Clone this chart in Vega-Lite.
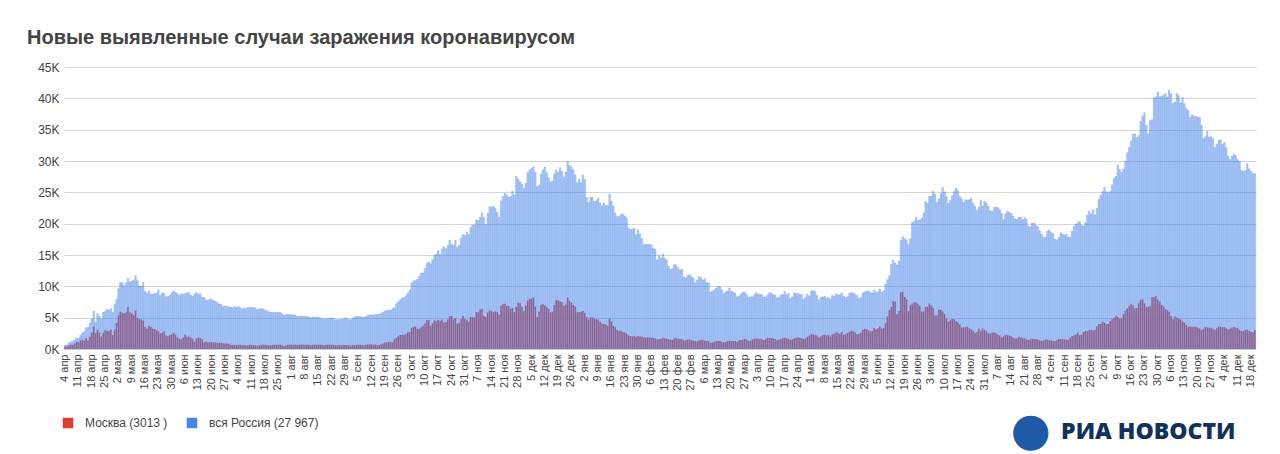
{
  "$schema": "https://vega.github.io/schema/vega-lite/v6.json",
  "autosize": "none",
  "width": 1192,
  "height": 282,
  "padding": {"left": 64, "top": 67, "right": 24, "bottom": 105},
  "background": "white",
  "title": {
    "text": "Новые выявленные случаи заражения коронавирусом",
    "anchor": "start",
    "frame": "group",
    "dx": -37,
    "offset": 13,
    "font": "Liberation Sans",
    "fontSize": 20,
    "fontWeight": "bold",
    "color": "#444444"
  },
  "config": {"view": {"stroke": null}, "font": "Liberation Sans"},
  "data": {
    "values": [
      {"d":"2020-04-04","r":582,"m":434},{"d":"2020-04-05","r":658,"m":387},{"d":"2020-04-06","r":954,"m":591},{"d":"2020-04-07","r":1154,"m":697},{"d":"2020-04-08","r":1175,"m":660},{"d":"2020-04-09","r":1459,"m":899},{"d":"2020-04-10","r":1786,"m":1124},
      {"d":"2020-04-11","r":1667,"m":1030},{"d":"2020-04-12","r":2186,"m":1355},{"d":"2020-04-13","r":2558,"m":1489},{"d":"2020-04-14","r":2774,"m":1306},{"d":"2020-04-15","r":3388,"m":1774},{"d":"2020-04-16","r":3448,"m":1370},{"d":"2020-04-17","r":4070,"m":1959},
      {"d":"2020-04-18","r":4785,"m":2649},{"d":"2020-04-19","r":6060,"m":3570},{"d":"2020-04-20","r":4268,"m":2548},{"d":"2020-04-21","r":5642,"m":3083},{"d":"2020-04-22","r":5236,"m":2612},{"d":"2020-04-23","r":4774,"m":1958},{"d":"2020-04-24","r":5849,"m":2586},
      {"d":"2020-04-25","r":5966,"m":2971},{"d":"2020-04-26","r":6361,"m":2930},{"d":"2020-04-27","r":6198,"m":2871},{"d":"2020-04-28","r":6411,"m":3075},{"d":"2020-04-29","r":5841,"m":2220},{"d":"2020-04-30","r":7099,"m":3093},
      {"d":"2020-05-01","r":7933,"m":4138},{"d":"2020-05-02","r":9623,"m":5358},{"d":"2020-05-03","r":10633,"m":5948},{"d":"2020-05-04","r":10581,"m":5795},{"d":"2020-05-05","r":10102,"m":5714},{"d":"2020-05-06","r":10559,"m":5858},{"d":"2020-05-07","r":11231,"m":6703},{"d":"2020-05-08","r":10699,"m":5846},
      {"d":"2020-05-09","r":10817,"m":5667},{"d":"2020-05-10","r":11012,"m":5392},{"d":"2020-05-11","r":11656,"m":6169},{"d":"2020-05-12","r":10899,"m":4955},{"d":"2020-05-13","r":10028,"m":4748},{"d":"2020-05-14","r":9974,"m":4712},{"d":"2020-05-15","r":10598,"m":4555},
      {"d":"2020-05-16","r":9200,"m":3505},{"d":"2020-05-17","r":8926,"m":3238},{"d":"2020-05-18","r":9263,"m":3709},{"d":"2020-05-19","r":8764,"m":3545},{"d":"2020-05-20","r":8764,"m":3255},{"d":"2020-05-21","r":8849,"m":3190},{"d":"2020-05-22","r":8894,"m":2988},
      {"d":"2020-05-23","r":9434,"m":2795},{"d":"2020-05-24","r":8599,"m":2516},{"d":"2020-05-25","r":8946,"m":2581},{"d":"2020-05-26","r":8915,"m":2830},{"d":"2020-05-27","r":8338,"m":2140},{"d":"2020-05-28","r":8371,"m":2054},{"d":"2020-05-29","r":8572,"m":2220},
      {"d":"2020-05-30","r":8952,"m":2332},{"d":"2020-05-31","r":9268,"m":2595},
      {"d":"2020-06-01","r":9035,"m":2286},{"d":"2020-06-02","r":8863,"m":1842},{"d":"2020-06-03","r":8536,"m":1595},{"d":"2020-06-04","r":8831,"m":1572},{"d":"2020-06-05","r":8726,"m":1855},
      {"d":"2020-06-06","r":8855,"m":2297},{"d":"2020-06-07","r":8984,"m":1972},{"d":"2020-06-08","r":8985,"m":2001},{"d":"2020-06-09","r":8595,"m":1854},{"d":"2020-06-10","r":8404,"m":1572},{"d":"2020-06-11","r":8779,"m":1195},{"d":"2020-06-12","r":8987,"m":1663},
      {"d":"2020-06-13","r":8706,"m":1842},{"d":"2020-06-14","r":8835,"m":1742},{"d":"2020-06-15","r":8248,"m":1572},{"d":"2020-06-16","r":8246,"m":1066},{"d":"2020-06-17","r":7843,"m":1195},{"d":"2020-06-18","r":7790,"m":1033},{"d":"2020-06-19","r":7972,"m":1104},
      {"d":"2020-06-20","r":7889,"m":1063},{"d":"2020-06-21","r":7728,"m":1053},{"d":"2020-06-22","r":7600,"m":1039},{"d":"2020-06-23","r":7425,"m":982},{"d":"2020-06-24","r":7176,"m":949},{"d":"2020-06-25","r":7113,"m":1012},{"d":"2020-06-26","r":6800,"m":915},
      {"d":"2020-06-27","r":6852,"m":858},{"d":"2020-06-28","r":6791,"m":896},{"d":"2020-06-29","r":6719,"m":797},{"d":"2020-06-30","r":6693,"m":645},
      {"d":"2020-07-01","r":6556,"m":649},{"d":"2020-07-02","r":6760,"m":665},{"d":"2020-07-03","r":6632,"m":603},
      {"d":"2020-07-04","r":6736,"m":659},{"d":"2020-07-05","r":6611,"m":674},{"d":"2020-07-06","r":6368,"m":558},{"d":"2020-07-07","r":6562,"m":647},{"d":"2020-07-08","r":6509,"m":608},{"d":"2020-07-09","r":6635,"m":577},{"d":"2020-07-10","r":6636,"m":659},
      {"d":"2020-07-11","r":6611,"m":642},{"d":"2020-07-12","r":6615,"m":621},{"d":"2020-07-13","r":6537,"m":580},{"d":"2020-07-14","r":6248,"m":531},{"d":"2020-07-15","r":6422,"m":588},{"d":"2020-07-16","r":6428,"m":691},{"d":"2020-07-17","r":6406,"m":704},
      {"d":"2020-07-18","r":6214,"m":668},{"d":"2020-07-19","r":6109,"m":640},{"d":"2020-07-20","r":5940,"m":573},{"d":"2020-07-21","r":5842,"m":577},{"d":"2020-07-22","r":5862,"m":636},{"d":"2020-07-23","r":5811,"m":667},{"d":"2020-07-24","r":5871,"m":688},
      {"d":"2020-07-25","r":5871,"m":671},{"d":"2020-07-26","r":5811,"m":696},{"d":"2020-07-27","r":5635,"m":603},{"d":"2020-07-28","r":5395,"m":480},{"d":"2020-07-29","r":5475,"m":604},{"d":"2020-07-30","r":5509,"m":692},{"d":"2020-07-31","r":5482,"m":693},
      {"d":"2020-08-01","r":5462,"m":695},{"d":"2020-08-02","r":5427,"m":692},{"d":"2020-08-03","r":5394,"m":683},{"d":"2020-08-04","r":5159,"m":613},{"d":"2020-08-05","r":5204,"m":671},{"d":"2020-08-06","r":5267,"m":695},{"d":"2020-08-07","r":5241,"m":702},
      {"d":"2020-08-08","r":5212,"m":695},{"d":"2020-08-09","r":5189,"m":689},{"d":"2020-08-10","r":5118,"m":681},{"d":"2020-08-11","r":4945,"m":590},{"d":"2020-08-12","r":5102,"m":664},{"d":"2020-08-13","r":5065,"m":690},{"d":"2020-08-14","r":5061,"m":680},
      {"d":"2020-08-15","r":5057,"m":683},{"d":"2020-08-16","r":4969,"m":683},{"d":"2020-08-17","r":4892,"m":675},{"d":"2020-08-18","r":4748,"m":611},{"d":"2020-08-19","r":4828,"m":659},{"d":"2020-08-20","r":4870,"m":679},{"d":"2020-08-21","r":4921,"m":685},
      {"d":"2020-08-22","r":4941,"m":680},{"d":"2020-08-23","r":4852,"m":669},{"d":"2020-08-24","r":4696,"m":599},{"d":"2020-08-25","r":4676,"m":583},{"d":"2020-08-26","r":4711,"m":615},{"d":"2020-08-27","r":4729,"m":616},{"d":"2020-08-28","r":4829,"m":627},
      {"d":"2020-08-29","r":4980,"m":638},{"d":"2020-08-30","r":4897,"m":645},{"d":"2020-08-31","r":4729,"m":599},
      {"d":"2020-09-01","r":4676,"m":557},{"d":"2020-09-02","r":4952,"m":622},{"d":"2020-09-03","r":5110,"m":628},{"d":"2020-09-04","r":5205,"m":643},
      {"d":"2020-09-05","r":5185,"m":682},{"d":"2020-09-06","r":5195,"m":691},{"d":"2020-09-07","r":5099,"m":640},{"d":"2020-09-08","r":5063,"m":598},{"d":"2020-09-09","r":5172,"m":695},{"d":"2020-09-10","r":5363,"m":720},{"d":"2020-09-11","r":5449,"m":757},
      {"d":"2020-09-12","r":5406,"m":767},{"d":"2020-09-13","r":5394,"m":650},{"d":"2020-09-14","r":5509,"m":712},{"d":"2020-09-15","r":5488,"m":643},{"d":"2020-09-16","r":5529,"m":632},{"d":"2020-09-17","r":5670,"m":750},{"d":"2020-09-18","r":5905,"m":883},
      {"d":"2020-09-19","r":6065,"m":1050},{"d":"2020-09-20","r":6148,"m":1056},{"d":"2020-09-21","r":6196,"m":1154},{"d":"2020-09-22","r":6215,"m":1083},{"d":"2020-09-23","r":6431,"m":1103},{"d":"2020-09-24","r":6595,"m":1560},{"d":"2020-09-25","r":7212,"m":1792},
      {"d":"2020-09-26","r":7523,"m":2016},{"d":"2020-09-27","r":7867,"m":2217},{"d":"2020-09-28","r":8135,"m":2285},{"d":"2020-09-29","r":8232,"m":2308},{"d":"2020-09-30","r":8481,"m":2424},
      {"d":"2020-10-01","r":8945,"m":2678},{"d":"2020-10-02","r":9412,"m":2704},
      {"d":"2020-10-03","r":10499,"m":3327},{"d":"2020-10-04","r":10888,"m":3537},{"d":"2020-10-05","r":10888,"m":3576},{"d":"2020-10-06","r":11115,"m":3229},{"d":"2020-10-07","r":11615,"m":3229},{"d":"2020-10-08","r":12126,"m":3478},{"d":"2020-10-09","r":12126,"m":3725},
      {"d":"2020-10-10","r":12846,"m":4082},{"d":"2020-10-11","r":13634,"m":4609},{"d":"2020-10-12","r":13868,"m":4634},{"d":"2020-10-13","r":13592,"m":3701},{"d":"2020-10-14","r":14231,"m":4130},{"d":"2020-10-15","r":14926,"m":4576},{"d":"2020-10-16","r":15150,"m":4425},
      {"d":"2020-10-17","r":15700,"m":4610},{"d":"2020-10-18","r":15099,"m":4501},{"d":"2020-10-19","r":15982,"m":4710},{"d":"2020-10-20","r":16319,"m":4228},{"d":"2020-10-21","r":15982,"m":4320},{"d":"2020-10-22","r":16521,"m":4701},{"d":"2020-10-23","r":17340,"m":5224},
      {"d":"2020-10-24","r":16710,"m":5283},{"d":"2020-10-25","r":16550,"m":4719},{"d":"2020-10-26","r":17347,"m":4930},{"d":"2020-10-27","r":16202,"m":4055},{"d":"2020-10-28","r":16550,"m":4172},{"d":"2020-10-29","r":17717,"m":4767},{"d":"2020-10-30","r":18283,"m":5261},
      {"d":"2020-10-31","r":18140,"m":4878},
      {"d":"2020-11-01","r":18665,"m":4616},{"d":"2020-11-02","r":18257,"m":4366},{"d":"2020-11-03","r":19404,"m":5126},{"d":"2020-11-04","r":19768,"m":5048},{"d":"2020-11-05","r":19768,"m":5074},{"d":"2020-11-06","r":20582,"m":5891},
      {"d":"2020-11-07","r":20498,"m":5882},{"d":"2020-11-08","r":20977,"m":6253},{"d":"2020-11-09","r":21798,"m":6438},{"d":"2020-11-10","r":20977,"m":5275},{"d":"2020-11-11","r":19851,"m":5122},{"d":"2020-11-12","r":21608,"m":5829},{"d":"2020-11-13","r":22702,"m":6164},
      {"d":"2020-11-14","r":22572,"m":6044},{"d":"2020-11-15","r":22778,"m":5880},{"d":"2020-11-16","r":22410,"m":6017},{"d":"2020-11-17","r":21798,"m":5882},{"d":"2020-11-18","r":20977,"m":5478},{"d":"2020-11-19","r":23610,"m":6899},{"d":"2020-11-20","r":24318,"m":7168},
      {"d":"2020-11-21","r":24822,"m":7212},{"d":"2020-11-22","r":24581,"m":6902},{"d":"2020-11-23","r":24236,"m":6866},{"d":"2020-11-24","r":24326,"m":6438},{"d":"2020-11-25","r":25173,"m":6531},{"d":"2020-11-26","r":24581,"m":5902},{"d":"2020-11-27","r":27543,"m":6747},
      {"d":"2020-11-28","r":27100,"m":7363},{"d":"2020-11-29","r":26683,"m":7297},{"d":"2020-11-30","r":26338,"m":6750},
      {"d":"2020-12-01","r":25694,"m":6037},{"d":"2020-12-02","r":26402,"m":6927},{"d":"2020-12-03","r":28145,"m":7750},{"d":"2020-12-04","r":28585,"m":7993},
      {"d":"2020-12-05","r":28782,"m":8050},{"d":"2020-12-06","r":29039,"m":8225},{"d":"2020-12-07","r":28142,"m":6754},{"d":"2020-12-08","r":25928,"m":5113},{"d":"2020-12-09","r":26190,"m":5962},{"d":"2020-12-10","r":27927,"m":7069},{"d":"2020-12-11","r":28585,"m":7170},
      {"d":"2020-12-12","r":29039,"m":6974},{"d":"2020-12-13","r":28137,"m":6719},{"d":"2020-12-14","r":27328,"m":6405},{"d":"2020-12-15","r":26689,"m":5843},{"d":"2020-12-16","r":26801,"m":5951},{"d":"2020-12-17","r":27921,"m":7011},{"d":"2020-12-18","r":28552,"m":7797},
      {"d":"2020-12-19","r":28209,"m":7797},{"d":"2020-12-20","r":28948,"m":7624},{"d":"2020-12-21","r":28341,"m":7518},{"d":"2020-12-22","r":27424,"m":6914},{"d":"2020-12-23","r":28214,"m":7095},{"d":"2020-12-24","r":29935,"m":8203},{"d":"2020-12-25","r":29258,"m":7651},
      {"d":"2020-12-26","r":29018,"m":7374},{"d":"2020-12-27","r":28552,"m":7022},{"d":"2020-12-28","r":27787,"m":6767},{"d":"2020-12-29","r":26513,"m":5873},{"d":"2020-12-30","r":27039,"m":5919},{"d":"2020-12-31","r":26513,"m":5901},
      {"d":"2021-01-01","r":27747,"m":6044},{"d":"2021-01-02","r":27039,"m":5783},{"d":"2021-01-03","r":24150,"m":5114},{"d":"2021-01-04","r":23351,"m":4707},{"d":"2021-01-05","r":24246,"m":5080},{"d":"2021-01-06","r":24217,"m":5037},{"d":"2021-01-07","r":23541,"m":4897},{"d":"2021-01-08","r":23652,"m":4735},
      {"d":"2021-01-09","r":24097,"m":4710},{"d":"2021-01-10","r":23309,"m":4392},{"d":"2021-01-11","r":22851,"m":4062},{"d":"2021-01-12","r":23315,"m":3981},{"d":"2021-01-13","r":22934,"m":3902},{"d":"2021-01-14","r":22851,"m":3731},{"d":"2021-01-15","r":24715,"m":4857},
      {"d":"2021-01-16","r":23586,"m":4393},{"d":"2021-01-17","r":22857,"m":3701},{"d":"2021-01-18","r":21734,"m":3470},{"d":"2021-01-19","r":21127,"m":3019},{"d":"2021-01-20","r":21152,"m":2880},{"d":"2021-01-21","r":21513,"m":2905},{"d":"2021-01-22","r":21513,"m":2713},
      {"d":"2021-01-23","r":21219,"m":2644},{"d":"2021-01-24","r":20935,"m":2470},{"d":"2021-01-25","r":19290,"m":2163},{"d":"2021-01-26","r":19032,"m":2073},{"d":"2021-01-27","r":19138,"m":2029},{"d":"2021-01-28","r":19238,"m":2085},{"d":"2021-01-29","r":18241,"m":1949},
      {"d":"2021-01-30","r":19032,"m":2085},{"d":"2021-01-31","r":18359,"m":1980},
      {"d":"2021-02-01","r":17648,"m":1977},{"d":"2021-02-02","r":16643,"m":1875},{"d":"2021-02-03","r":16714,"m":1812},{"d":"2021-02-04","r":16688,"m":1863},{"d":"2021-02-05","r":16710,"m":1805},
      {"d":"2021-02-06","r":16627,"m":1825},{"d":"2021-02-07","r":16048,"m":1773},{"d":"2021-02-08","r":15916,"m":1680},{"d":"2021-02-09","r":14207,"m":1545},{"d":"2021-02-10","r":14928,"m":1597},{"d":"2021-02-11","r":14494,"m":1634},{"d":"2021-02-12","r":15147,"m":1805},
      {"d":"2021-02-13","r":14445,"m":1711},{"d":"2021-02-14","r":14185,"m":1650},{"d":"2021-02-15","r":13233,"m":1581},{"d":"2021-02-16","r":12742,"m":1485},{"d":"2021-02-17","r":12828,"m":1460},{"d":"2021-02-18","r":13447,"m":1689},{"d":"2021-02-19","r":13433,"m":1722},
      {"d":"2021-02-20","r":12953,"m":1647},{"d":"2021-02-21","r":12604,"m":1589},{"d":"2021-02-22","r":12742,"m":1553},{"d":"2021-02-23","r":11534,"m":1395},{"d":"2021-02-24","r":11359,"m":1377},{"d":"2021-02-25","r":11749,"m":1496},{"d":"2021-02-26","r":11843,"m":1523},
      {"d":"2021-02-27","r":11534,"m":1424},{"d":"2021-02-28","r":11359,"m":1367},
      {"d":"2021-03-01","r":10565,"m":1290},{"d":"2021-03-02","r":11022,"m":1225},{"d":"2021-03-03","r":11571,"m":1391},{"d":"2021-03-04","r":11385,"m":1493},{"d":"2021-03-05","r":11024,"m":1450},
      {"d":"2021-03-06","r":11198,"m":1325},{"d":"2021-03-07","r":10595,"m":1269},{"d":"2021-03-08","r":10565,"m":1277},{"d":"2021-03-09","r":9079,"m":996},{"d":"2021-03-10","r":9270,"m":1040},{"d":"2021-03-11","r":9437,"m":1176},{"d":"2021-03-12","r":9697,"m":1246},
      {"d":"2021-03-13","r":10018,"m":1263},{"d":"2021-03-14","r":9909,"m":1270},{"d":"2021-03-15","r":9437,"m":1134},{"d":"2021-03-16","r":8813,"m":1071},{"d":"2021-03-17","r":9150,"m":1134},{"d":"2021-03-18","r":9252,"m":1227},{"d":"2021-03-19","r":9724,"m":1356},
      {"d":"2021-03-20","r":9215,"m":1282},{"d":"2021-03-21","r":9094,"m":1257},{"d":"2021-03-22","r":8924,"m":1263},{"d":"2021-03-23","r":8328,"m":1201},{"d":"2021-03-24","r":8457,"m":1392},{"d":"2021-03-25","r":8769,"m":1442},{"d":"2021-03-26","r":9073,"m":1514},
      {"d":"2021-03-27","r":9088,"m":1626},{"d":"2021-03-28","r":8711,"m":1505},{"d":"2021-03-29","r":8277,"m":1325},{"d":"2021-03-30","r":8341,"m":1286},{"d":"2021-03-31","r":8329,"m":1511},
      {"d":"2021-04-01","r":8646,"m":1633},{"d":"2021-04-02","r":9016,"m":1670},
      {"d":"2021-04-03","r":8783,"m":1621},{"d":"2021-04-04","r":8704,"m":1642},{"d":"2021-04-05","r":8646,"m":1582},{"d":"2021-04-06","r":8294,"m":1426},{"d":"2021-04-07","r":8328,"m":1621},{"d":"2021-04-08","r":8604,"m":1784},{"d":"2021-04-09","r":9013,"m":1748},
      {"d":"2021-04-10","r":8892,"m":1776},{"d":"2021-04-11","r":8702,"m":1689},{"d":"2021-04-12","r":8589,"m":1611},{"d":"2021-04-13","r":8173,"m":1445},{"d":"2021-04-14","r":8271,"m":1510},{"d":"2021-04-15","r":8632,"m":1607},{"d":"2021-04-16","r":8683,"m":1711},
      {"d":"2021-04-17","r":9149,"m":1803},{"d":"2021-04-18","r":8672,"m":1693},{"d":"2021-04-19","r":8835,"m":1625},{"d":"2021-04-20","r":8053,"m":1476},{"d":"2021-04-21","r":8309,"m":1538},{"d":"2021-04-22","r":8924,"m":1702},{"d":"2021-04-23","r":8857,"m":1760},
      {"d":"2021-04-24","r":8848,"m":1866},{"d":"2021-04-25","r":8695,"m":1806},{"d":"2021-04-26","r":8676,"m":1733},{"d":"2021-04-27","r":7920,"m":1601},{"d":"2021-04-28","r":8312,"m":1717},{"d":"2021-04-29","r":8788,"m":1951},{"d":"2021-04-30","r":8419,"m":2144},
      {"d":"2021-05-01","r":9270,"m":2352},{"d":"2021-05-02","r":9328,"m":2327},{"d":"2021-05-03","r":9159,"m":2277},{"d":"2021-05-04","r":8536,"m":2129},{"d":"2021-05-05","r":7770,"m":1830},{"d":"2021-05-06","r":8217,"m":2067},{"d":"2021-05-07","r":8317,"m":2235},
      {"d":"2021-05-08","r":8419,"m":2285},{"d":"2021-05-09","r":8081,"m":2171},{"d":"2021-05-10","r":8273,"m":2245},{"d":"2021-05-11","r":7975,"m":1961},{"d":"2021-05-12","r":8554,"m":2342},{"d":"2021-05-13","r":8380,"m":2427},{"d":"2021-05-14","r":8790,"m":2622},
      {"d":"2021-05-15","r":8632,"m":2587},{"d":"2021-05-16","r":8632,"m":2453},{"d":"2021-05-17","r":8951,"m":2706},{"d":"2021-05-18","r":8400,"m":2283},{"d":"2021-05-19","r":8217,"m":2301},{"d":"2021-05-20","r":8338,"m":2542},{"d":"2021-05-21","r":8860,"m":2710},
      {"d":"2021-05-22","r":8976,"m":2913},{"d":"2021-05-23","r":8947,"m":2820},{"d":"2021-05-24","r":8724,"m":2615},{"d":"2021-05-25","r":8554,"m":2363},{"d":"2021-05-26","r":8057,"m":2378},{"d":"2021-05-27","r":8217,"m":2634},{"d":"2021-05-28","r":8947,"m":3066},
      {"d":"2021-05-29","r":9088,"m":3225},{"d":"2021-05-30","r":9252,"m":3145},{"d":"2021-05-31","r":9268,"m":3004},
      {"d":"2021-06-01","r":9022,"m":2805},{"d":"2021-06-02","r":8951,"m":2896},{"d":"2021-06-03","r":9393,"m":3360},{"d":"2021-06-04","r":9020,"m":3120},
      {"d":"2021-06-05","r":9145,"m":3320},{"d":"2021-06-06","r":9557,"m":3596},{"d":"2021-06-07","r":9070,"m":3216},{"d":"2021-06-08","r":9311,"m":3346},{"d":"2021-06-09","r":10407,"m":4124},{"d":"2021-06-10","r":11058,"m":5195},{"d":"2021-06-11","r":11699,"m":6195},
      {"d":"2021-06-12","r":13510,"m":6701},{"d":"2021-06-13","r":14185,"m":7668},{"d":"2021-06-14","r":13721,"m":7580},{"d":"2021-06-15","r":13397,"m":5555},{"d":"2021-06-16","r":14057,"m":6050},{"d":"2021-06-17","r":17262,"m":9056},{"d":"2021-06-18","r":17906,"m":9120},
      {"d":"2021-06-19","r":17611,"m":8305},{"d":"2021-06-20","r":17378,"m":7915},{"d":"2021-06-21","r":16715,"m":6011},{"d":"2021-06-22","r":17594,"m":6952},{"d":"2021-06-23","r":20182,"m":7208},{"d":"2021-06-24","r":20393,"m":7446},{"d":"2021-06-25","r":21042,"m":7440},
      {"d":"2021-06-26","r":20538,"m":7218},{"d":"2021-06-27","r":20616,"m":6913},{"d":"2021-06-28","r":20867,"m":5963},{"d":"2021-06-29","r":21650,"m":5982},{"d":"2021-06-30","r":23543,"m":6709},
      {"d":"2021-07-01","r":23218,"m":6754},{"d":"2021-07-02","r":24353,"m":7276},
      {"d":"2021-07-03","r":24439,"m":7004},{"d":"2021-07-04","r":25142,"m":6587},{"d":"2021-07-05","r":24702,"m":5341},{"d":"2021-07-06","r":23378,"m":5376},{"d":"2021-07-07","r":23962,"m":6253},{"d":"2021-07-08","r":24818,"m":6252},{"d":"2021-07-09","r":25766,"m":5995},
      {"d":"2021-07-10","r":25082,"m":5572},{"d":"2021-07-11","r":24303,"m":4864},{"d":"2021-07-12","r":23231,"m":4339},{"d":"2021-07-13","r":23704,"m":4571},{"d":"2021-07-14","r":24471,"m":4769},{"d":"2021-07-15","r":25116,"m":4737},{"d":"2021-07-16","r":25704,"m":4426},
      {"d":"2021-07-17","r":25293,"m":4245},{"d":"2021-07-18","r":24379,"m":3927},{"d":"2021-07-19","r":23947,"m":3430},{"d":"2021-07-20","r":23387,"m":3450},{"d":"2021-07-21","r":23824,"m":3548},{"d":"2021-07-22","r":23770,"m":3554},{"d":"2021-07-23","r":23811,"m":3287},
      {"d":"2021-07-24","r":24072,"m":3161},{"d":"2021-07-25","r":23270,"m":2913},{"d":"2021-07-26","r":22772,"m":2604},{"d":"2021-07-27","r":22141,"m":2701},{"d":"2021-07-28","r":22576,"m":3254},{"d":"2021-07-29","r":23704,"m":2903},{"d":"2021-07-30","r":22804,"m":3268},
      {"d":"2021-07-31","r":23564,"m":3041},
      {"d":"2021-08-01","r":23270,"m":2814},{"d":"2021-08-02","r":22790,"m":2516},{"d":"2021-08-03","r":22069,"m":2458},{"d":"2021-08-04","r":21932,"m":2619},{"d":"2021-08-05","r":22589,"m":2668},{"d":"2021-08-06","r":22660,"m":2527},
      {"d":"2021-08-07","r":22545,"m":2298},{"d":"2021-08-08","r":22277,"m":2142},{"d":"2021-08-09","r":21624,"m":1855},{"d":"2021-08-10","r":20633,"m":2035},{"d":"2021-08-11","r":21571,"m":2267},{"d":"2021-08-12","r":22000,"m":2218},{"d":"2021-08-13","r":21782,"m":2159},
      {"d":"2021-08-14","r":21624,"m":2027},{"d":"2021-08-15","r":21227,"m":1833},{"d":"2021-08-16","r":20765,"m":1688},{"d":"2021-08-17","r":20668,"m":1716},{"d":"2021-08-18","r":21058,"m":1939},{"d":"2021-08-19","r":21000,"m":1828},{"d":"2021-08-20","r":20564,"m":1812},
      {"d":"2021-08-21","r":20992,"m":1697},{"d":"2021-08-22","r":20674,"m":1537},{"d":"2021-08-23","r":19630,"m":1471},{"d":"2021-08-24","r":19492,"m":1512},{"d":"2021-08-25","r":20057,"m":1649},{"d":"2021-08-26","r":20112,"m":1602},{"d":"2021-08-27","r":19706,"m":1600},
      {"d":"2021-08-28","r":19509,"m":1512},{"d":"2021-08-29","r":18856,"m":1392},{"d":"2021-08-30","r":18325,"m":1306},{"d":"2021-08-31","r":17813,"m":1360},
      {"d":"2021-09-01","r":17856,"m":1499},{"d":"2021-09-02","r":18780,"m":1474},{"d":"2021-09-03","r":18985,"m":1410},
      {"d":"2021-09-04","r":18645,"m":1405},{"d":"2021-09-05","r":18380,"m":1284},{"d":"2021-09-06","r":17524,"m":1281},{"d":"2021-09-07","r":17425,"m":1420},{"d":"2021-09-08","r":17837,"m":1590},{"d":"2021-09-09","r":18554,"m":1566},{"d":"2021-09-10","r":18341,"m":1609},
      {"d":"2021-09-11","r":18178,"m":1566},{"d":"2021-09-12","r":18325,"m":1466},{"d":"2021-09-13","r":17856,"m":1471},{"d":"2021-09-14","r":17813,"m":1806},{"d":"2021-09-15","r":18841,"m":2089},{"d":"2021-09-16","r":19594,"m":2150},{"d":"2021-09-17","r":19905,"m":2350},
      {"d":"2021-09-18","r":20174,"m":2596},{"d":"2021-09-19","r":20329,"m":2219},{"d":"2021-09-20","r":19706,"m":2294},{"d":"2021-09-21","r":19630,"m":2713},{"d":"2021-09-22","r":20174,"m":2893},{"d":"2021-09-23","r":21379,"m":2834},{"d":"2021-09-24","r":21986,"m":3029},
      {"d":"2021-09-25","r":21559,"m":3085},{"d":"2021-09-26","r":22236,"m":2940},{"d":"2021-09-27","r":21375,"m":3091},{"d":"2021-09-28","r":22430,"m":3635},{"d":"2021-09-29","r":23888,"m":3986},{"d":"2021-09-30","r":24522,"m":4017},
      {"d":"2021-10-01","r":25133,"m":4356},
      {"d":"2021-10-02","r":25781,"m":4181},{"d":"2021-10-03","r":25110,"m":3987},{"d":"2021-10-04","r":24931,"m":4017},{"d":"2021-10-05","r":25133,"m":4474},{"d":"2021-10-06","r":26205,"m":4755},{"d":"2021-10-07","r":27246,"m":4929},{"d":"2021-10-08","r":27550,"m":5292},
      {"d":"2021-10-09","r":29362,"m":5126},{"d":"2021-10-10","r":28647,"m":4843},{"d":"2021-10-11","r":28190,"m":4898},{"d":"2021-10-12","r":28717,"m":5575},{"d":"2021-10-13","r":29926,"m":6112},{"d":"2021-10-14","r":31299,"m":6474},{"d":"2021-10-15","r":32196,"m":6891},
      {"d":"2021-10-16","r":33208,"m":7221},{"d":"2021-10-17","r":34303,"m":6998},{"d":"2021-10-18","r":34325,"m":6484},{"d":"2021-10-19","r":33740,"m":6547},{"d":"2021-10-20","r":34073,"m":7307},{"d":"2021-10-21","r":36339,"m":7835},{"d":"2021-10-22","r":37141,"m":7926},
      {"d":"2021-10-23","r":37678,"m":7267},{"d":"2021-10-24","r":35660,"m":6702},{"d":"2021-10-25","r":34325,"m":6744},{"d":"2021-10-26","r":36446,"m":6840},{"d":"2021-10-27","r":36582,"m":8303},{"d":"2021-10-28","r":40096,"m":8240},{"d":"2021-10-29","r":40251,"m":8440},
      {"d":"2021-10-30","r":40993,"m":7905},{"d":"2021-10-31","r":40251,"m":7604},
      {"d":"2021-11-01","r":40402,"m":7023},{"d":"2021-11-02","r":40443,"m":6794},{"d":"2021-11-03","r":40735,"m":6359},{"d":"2021-11-04","r":40217,"m":6213},{"d":"2021-11-05","r":41335,"m":5940},
      {"d":"2021-11-06","r":40735,"m":5271},{"d":"2021-11-07","r":39160,"m":4744},{"d":"2021-11-08","r":39400,"m":5176},{"d":"2021-11-09","r":40759,"m":5022},{"d":"2021-11-10","r":40443,"m":4829},{"d":"2021-11-11","r":39256,"m":4693},{"d":"2021-11-12","r":40123,"m":4384},
      {"d":"2021-11-13","r":39160,"m":4192},{"d":"2021-11-14","r":38420,"m":3853},{"d":"2021-11-15","r":38058,"m":3543},{"d":"2021-11-16","r":36970,"m":3574},{"d":"2021-11-17","r":37374,"m":3550},{"d":"2021-11-18","r":37156,"m":3537},{"d":"2021-11-19","r":37120,"m":3541},
      {"d":"2021-11-20","r":37008,"m":3410},{"d":"2021-11-21","r":36970,"m":3266},{"d":"2021-11-22","r":35681,"m":3016},{"d":"2021-11-23","r":33558,"m":3213},{"d":"2021-11-24","r":33860,"m":3515},{"d":"2021-11-25","r":34690,"m":3443},{"d":"2021-11-26","r":33796,"m":3409},
      {"d":"2021-11-27","r":33873,"m":3373},{"d":"2021-11-28","r":33558,"m":3226},{"d":"2021-11-29","r":32136,"m":3061},{"d":"2021-11-30","r":32648,"m":3307},
      {"d":"2021-12-01","r":33230,"m":3566},{"d":"2021-12-02","r":33389,"m":3549},{"d":"2021-12-03","r":32648,"m":3513},
      {"d":"2021-12-04","r":32930,"m":3491},{"d":"2021-12-05","r":32136,"m":3296},{"d":"2021-12-06","r":30752,"m":3088},{"d":"2021-12-07","r":30209,"m":3229},{"d":"2021-12-08","r":30752,"m":3404},{"d":"2021-12-09","r":31096,"m":3507},{"d":"2021-12-10","r":30873,"m":3382},
      {"d":"2021-12-11","r":30209,"m":3323},{"d":"2021-12-12","r":29929,"m":3023},{"d":"2021-12-13","r":28486,"m":2843},{"d":"2021-12-14","r":28363,"m":2863},{"d":"2021-12-15","r":28486,"m":3062},{"d":"2021-12-16","r":29558,"m":3076},{"d":"2021-12-17","r":28763,"m":2885},
      {"d":"2021-12-18","r":28363,"m":2752},{"d":"2021-12-19","r":28014,"m":2687},{"d":"2021-12-20","r":27967,"m":3013}
    ]
  },
  "encoding": {
    "x": {
      "field": "d",
      "type": "ordinal",
      "scale": {"paddingInner": 0.2, "paddingOuter": 0.2},
      "title": "РИА НОВОСТИ",
      "axis": {
        "labelAngle": -90,
        "labelFont": "Liberation Sans",
        "labelFontSize": 11,
        "labelColor": "#444444",
        "labelPadding": 5,
        "labelOverlap": false,
        "labelBound": false,
        "labelFlush": false,
        "ticks": false,
        "domain": false,
        "labelExpr": "(round((toDate(datum.value) - toDate('2020-04-04')) / 86400000) % 7 == 0) ? utcdate(toDate(datum.value)) + ' ' + ['янв','фев','мар','апр','мая','июн','июл','авг','сен','окт','ноя','дек'][utcmonth(toDate(datum.value))] : ''",
        "titleX": 1171,
        "titleY": 89,
        "titleAlign": "right",
        "titleBaseline": "alphabetic",
        "titleFont": "Open Sans",
        "titleFontWeight": 800,
        "titleFontSize": 23,
        "titleColor": "#13325b"
      }
    },
    "y": {
      "type": "quantitative",
      "scale": {"domain": [0, 45000], "nice": false},
      "title": "●",
      "axis": {
        "values": [0, 5000, 10000, 15000, 20000, 25000, 30000, 35000, 40000, 45000],
        "labelExpr": "datum.value / 1000 + 'K'",
        "domain": false,
        "ticks": false,
        "gridColor": "#d6d6d6",
        "labelFont": "Liberation Sans",
        "labelFontSize": 12,
        "labelColor": "#444444",
        "labelPadding": 5,
        "titleX": 966,
        "titleY": 363,
        "titleAngle": 0,
        "titleAlign": "center",
        "titleBaseline": "middle",
        "titleFont": "DejaVu Sans",
        "titleFontWeight": "normal",
        "titleFontSize": 46,
        "titleColor": "#1f5aa6"
      }
    }
  },
  "layer": [
    {
      "mark": {"type": "bar"},
      "encoding": {
        "y": {"field": "m"},
        "color": {
          "datum": "Москва (3013 )",
          "scale": {
            "domain": ["Москва (3013 )", "вся Россия (27 967)"],
            "range": ["#dc3f33", "#4a86e8"]
          },
          "legend": {
            "orient": "none",
            "legendX": -2,
            "legendY": 350,
            "direction": "horizontal",
            "title": null,
            "symbolType": "square",
            "symbolSize": 110,
            "symbolStrokeWidth": 0,
            "labelFont": "Liberation Sans",
            "labelFontSize": 12,
            "labelColor": "#444444",
            "labelOffset": 11,
            "columnPadding": 18,
            "encode": {
              "symbols": {"update": {"opacity": {"value": 1}, "fillOpacity": {"value": 1}}}
            }
          }
        }
      }
    },
    {
      "mark": {"type": "bar", "fillOpacity": 0.42, "stroke": "#4a86e8", "strokeWidth": 0.4, "strokeOpacity": 0.75},
      "encoding": {
        "y": {"field": "r"},
        "color": {"datum": "вся Россия (27 967)"}
      }
    }
  ]
}
